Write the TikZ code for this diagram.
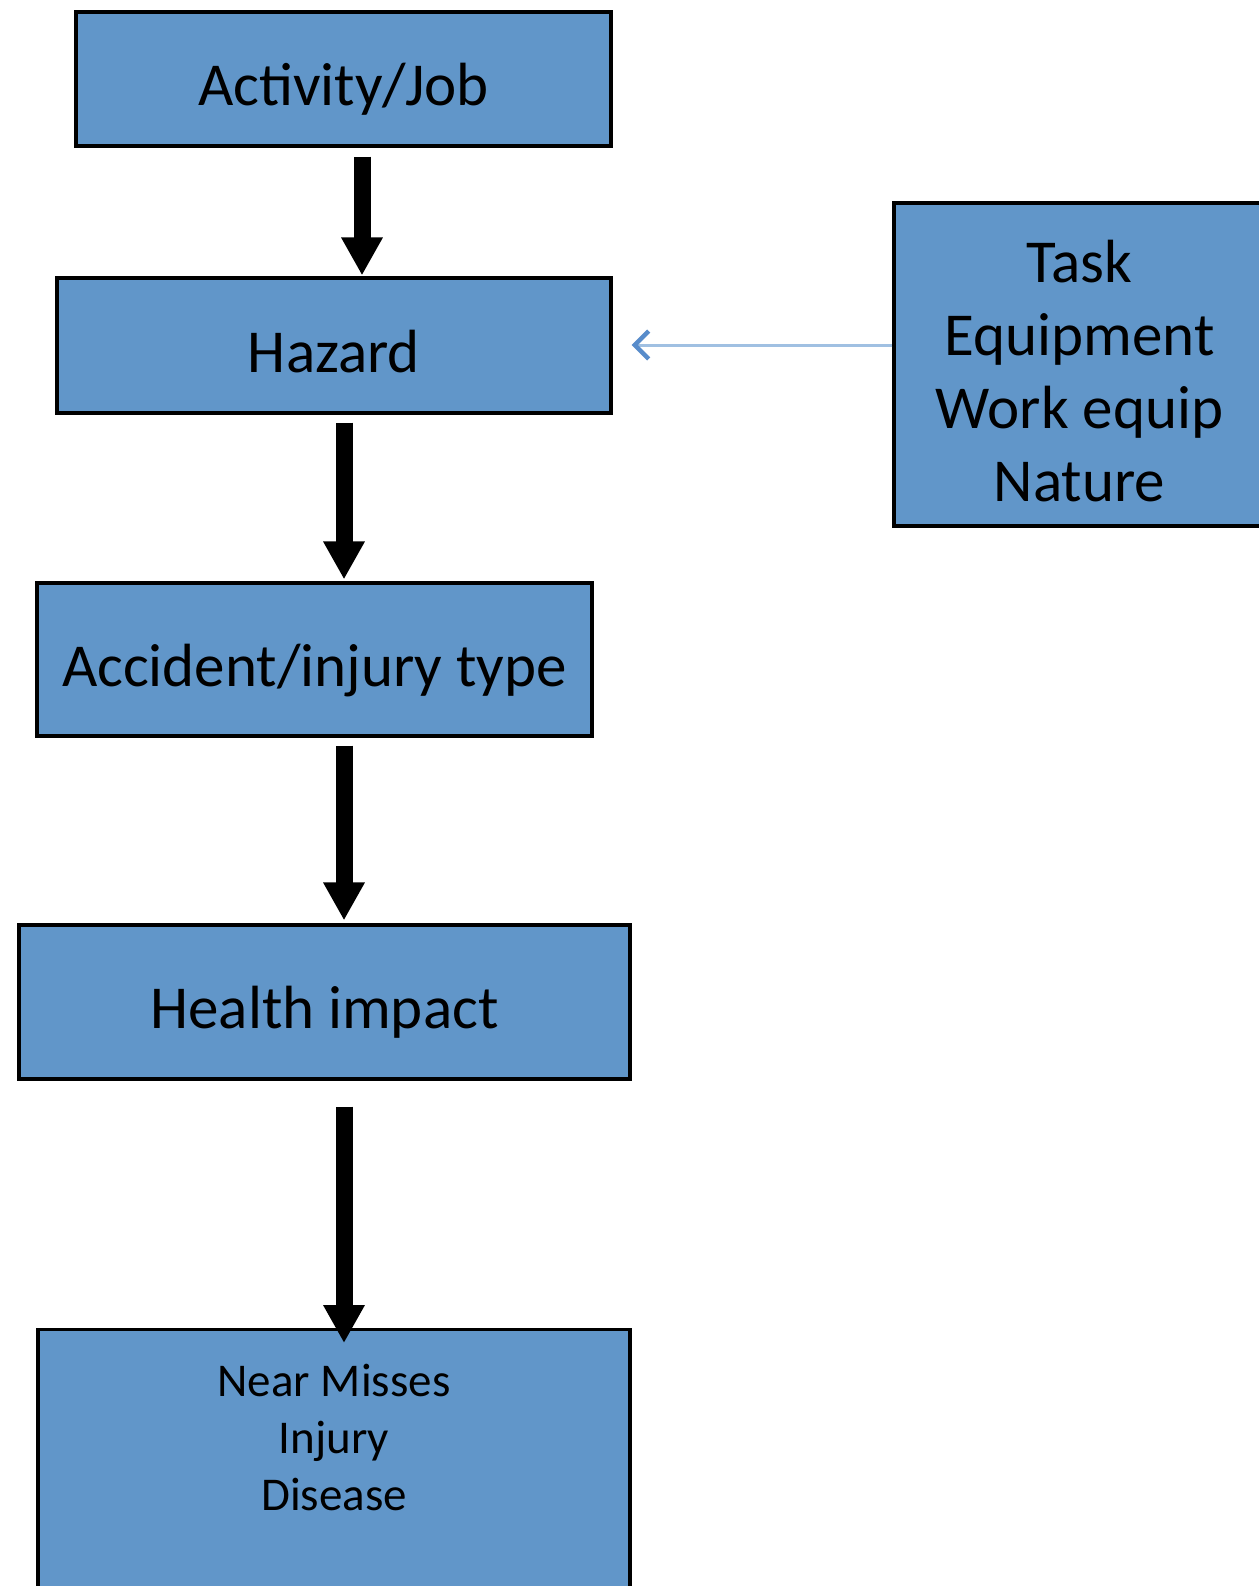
\documentclass[tikz,border=0pt]{standalone}
\usepackage{fontspec}
\setmainfont{Carlito}
\usepackage{tikz}
\usetikzlibrary{arrows.meta, positioning}
\definecolor{boxblue}{RGB}{97,150,201}
\definecolor{linkblue}{RGB}{160,192,226}
\definecolor{tipblue}{RGB}{88,140,203}
\tikzset{
    stage/.style={rectangle, draw=black, line width=1.6pt, fill=boxblue, text centered, text height=26.6pt, text depth=0pt, font=\fontsize{30.5pt}{36.5pt}\selectfont},
    factors/.style={stage, align=center, text height=137pt, text depth=0pt},
    outcome/.style={rectangle, draw=black, line width=1.6pt, fill=boxblue, align=center, anchor=north, inner ysep=17.5pt, font=\fontsize{23.5pt}{28.5pt}\selectfont},
    bigarrow/.style={line width=8.5pt, -{Triangle[width=19.5pt, length=19pt]}},
    thinarrow/.style={line width=1.5pt, linkblue, -{Straight Barb[length=7pt, width=14pt, line width=2.2pt, color=tipblue]}},
}

\begin{document}
\begin{tikzpicture}[x=0.5pt,y=-0.5pt]
  \useasboundingbox (0,0) rectangle (1259,1586);
  \fill[white] (0,0) rectangle (1259,1586);

  \node[stage, minimum width=267.5pt, minimum height=67pt]   (act)  at (343.5,79)   {Activity/Job};
  \node[stage, minimum width=277pt, minimum height=67.5pt]   (haz)  at (334,345.5)  {Hazard};
  \node[stage, minimum width=277.5pt, minimum height=76.5pt] (acc)  at (314.5,659.5) {Accident/injury type};
  \node[stage, minimum width=305.5pt, minimum height=77pt]   (hlth) at (324.5,1002) {Health impact};
  \node[outcome, minimum width=296pt, text depth=95pt]       (out)  at (334,1328)   {Near Misses\\Injury\\Disease};
  \node[factors, minimum width=185.5pt, minimum height=161.5pt] (fac) at (1079.5,364.5) {Task\\Equipment\\Work equip\\Nature};

  \draw[bigarrow, shorten <=4.5pt, shorten >=0.5pt] (act.south -| 362,0) -- (haz.north -| 362,0);
  \draw[bigarrow, shorten <=4pt, shorten >=1pt]     (haz.south -| 344,0) -- (acc.north -| 344,0);
  \draw[bigarrow, shorten <=4pt, shorten >=1.5pt]   (acc.south -| 344,0) -- (hlth.north -| 344,0);
  \draw[bigarrow, shorten <=13pt, shorten >=-7.5pt] (hlth.south -| 344,0) -- (out.north -| 344,0);
  \draw[thinarrow, shorten >=9.5pt] (fac.west |- 0,345) -- (haz.east |- 0,345);
\end{tikzpicture}
\end{document}
